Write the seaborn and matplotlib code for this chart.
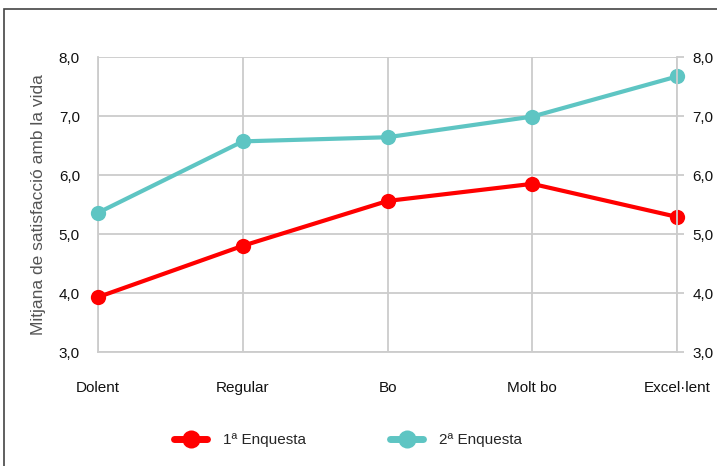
import pandas as pd
import seaborn as sns
import matplotlib.pyplot as plt
from matplotlib.patches import Rectangle
from matplotlib.ticker import FuncFormatter

# dades llegides del gràfic
categories = ['Dolent', 'Regular', 'Bo', 'Molt bo', 'Excel·lent']
enquesta_1 = [3.93, 4.80, 5.56, 5.85, 5.29]
enquesta_2 = [5.36, 6.57, 6.64, 6.99, 7.67]
series_names = ['1ª Enquesta', '2ª Enquesta']
yticks = [3, 4, 5, 6, 7, 8]

df = pd.DataFrame({
    'categoria': categories * 2,
    'pos': list(range(len(categories))) * 2,
    'valor': enquesta_1 + enquesta_2,
    'serie': [series_names[0]] * len(categories) + [series_names[1]] * len(categories),
})

sns.set_style('white')
plt.rcParams['font.family'] = ['Liberation Sans', 'DejaVu Sans']

fig = plt.figure(figsize=(7.17, 4.66), dpi=100)
ax = fig.add_axes([98 / 717, 1 - 352 / 466, (677 - 98) / 717, (352 - 57) / 466])

colors = {'1ª Enquesta': '#ff0000', '2ª Enquesta': '#5ec5c3'}
sns.lineplot(data=df, x='pos', y='valor', hue='serie', palette=colors, marker='o',
             markersize=11, linewidth=3, markeredgewidth=0, ax=ax, legend=False,
             clip_on=False, zorder=3)

grid_c = '#cccccc'
fs = 11
ax.set_xlim(0, len(categories) - 1)
ax.set_ylim(3, 8)
ax.set_yticks(yticks)
ax.set_xticks(range(len(categories)))
ax.set_xticklabels(categories)
fmt = FuncFormatter(lambda v, p: f'{v:.1f}'.replace('.', ','))
ax.yaxis.set_major_formatter(fmt)
ax.grid(True, color=grid_c, linewidth=1.3)
for s in ['top', 'right']:
    ax.spines[s].set_visible(False)
ax.spines['left'].set_color(grid_c)
ax.spines['bottom'].set_color(grid_c)
ax.spines['left'].set_linewidth(1.3)
ax.spines['bottom'].set_linewidth(1.3)
ax.tick_params(axis='x', length=0, pad=21, labelsize=fs, colors='#111111')
ax.tick_params(axis='y', length=0, pad=13, labelsize=fs, colors='#111111')
ax.set_xlabel('')
ax.set_ylabel('Mitjana de satisfacció amb la vida', fontsize=12.5, color='#555555', labelpad=9)

ax2 = ax.twinx()
ax2.set_ylim(3, 8)
ax2.set_yticks(yticks)
ax2.yaxis.set_major_formatter(fmt)
for s in ['top', 'left', 'bottom']:
    ax2.spines[s].set_visible(False)
ax2.spines['right'].set_color(grid_c)
ax2.spines['right'].set_linewidth(1.3)
ax2.tick_params(axis='y', length=5, width=1.3, color=grid_c, pad=6, labelsize=fs, labelcolor='#111111')

# llegenda
handles = [plt.Line2D([], [], color=colors[n], marker='o', markersize=13, linewidth=5,
                      markeredgewidth=0) for n in series_names]
fig.legend(handles, series_names, loc='center', bbox_to_anchor=(0.485, 0.056), ncol=2,
           frameon=False, fontsize=fs, handlelength=2.2, columnspacing=5.5, handletextpad=1.0)

# marc del gràfic
fig.patches.append(Rectangle((4 / 717, -0.05), 1.2, 1.05 - 9 / 466, transform=fig.transFigure,
                             fill=False, edgecolor='#444444', linewidth=1.2))

plt.savefig('out.png', dpi=100)
